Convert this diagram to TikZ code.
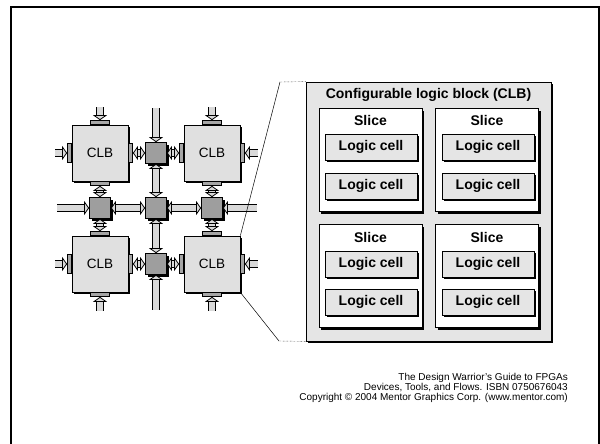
\documentclass[tikz,border=0pt]{standalone}
\usepackage{fontspec}
\setmainfont{Liberation Sans}
\usetikzlibrary{shadows,arrows.meta,positioning}

\tikzset{boxshadow/.style={drop shadow={shadow xshift=2pt,shadow yshift=-2pt,opacity=1,fill=black}}}
\tikzset{clb/.style={draw,fill=black!12,minimum size=56,line width=0.7pt,font=\fontsize{13.5}{14}\selectfont,boxshadow}}
\tikzset{switch/.style={draw,fill=black!38,minimum size=21,line width=0.7pt,boxshadow}}
\tikzset{pinh/.style={draw,fill=black!35,minimum width=19,minimum height=4,inner sep=0pt,line width=0.5pt}}
\tikzset{pinv/.style={pinh,minimum width=4,minimum height=19}}
\tikzset{plug/.tip={Triangle[length=5pt,width=14pt,fill=black!15,line width=0.8pt]}}
\tikzset{link/.style={draw,line width=0.8pt,double=black!15,double distance=6pt}}
\tikzset{bigbox/.style={draw,fill=black!10,line width=0.8pt,minimum width=245,minimum height=259,boxshadow}}
\tikzset{slice/.style={draw,fill=white,line width=0.8pt,minimum width=103,minimum height=103,boxshadow}}
\tikzset{cell/.style={draw,fill=black!10,line width=0.8pt,minimum width=92,minimum height=26,inner sep=0pt,font=\fontsize{14}{14}\selectfont\bfseries,boxshadow}}
\tikzset{heading/.style={font=\fontsize{14}{14}\selectfont\bfseries,inner sep=0pt}}

\begin{document}
\begin{tikzpicture}[x=1pt,y=-1pt]
\useasboundingbox (0,0) rectangle (600,444);
\draw[line width=2pt](11,446) -- (11,7) -- (599,7) -- (599,446);

% array of blocks and switches
\node[clb](a) at (100,153){CLB};
\node[clb](b) at (212,153){CLB};
\node[clb](c) at (100,264){CLB};
\node[clb](d) at (212,264){CLB};
\node[switch](s1) at (156,153){};
\node[switch](s2) at (100,208){};
\node[switch](s3) at (156,208){};
\node[switch](s4) at (212,208){};
\node[switch](s5) at (156,264){};
\foreach \n in {a,b,c,d}{
  \node[pinh,anchor=south](\n-n) at (\n.north){};
  \node[pinh,anchor=north](\n-s) at (\n.south){};
  \node[pinv,anchor=east](\n-w) at (\n.west){};
  \node[pinv,anchor=west](\n-e) at (\n.east){};
}
\coordinate[above=13pt of a-n](a-top);
\coordinate[above=13pt of b-n](b-top);
\coordinate[left=12pt of a-w](a-left);
\coordinate[left=12pt of c-w](c-left);
\coordinate[right=13pt of b-e](b-right);
\coordinate[right=13pt of d-e](d-right);
\coordinate[below=14pt of c-s](c-bot);
\coordinate[below=14pt of d-s](d-bot);
\coordinate[above=34pt of s1](v-top);
\coordinate[below=35pt of s5](v-bot);
\coordinate[left=32pt of s2](h-left);
\coordinate[right=34pt of s4](h-right);

\draw[link,-plug](a-top) -- (a-n);
\draw[link,-plug](b-top) -- (b-n);
\draw[link,-plug](a-left) -- (a-w);
\draw[link,-plug](c-left) -- (c-w);
\draw[link,-plug](b-right) -- (b-e);
\draw[link,-plug](d-right) -- (d-e);
\draw[link,-plug](c-bot) -- (c-s);
\draw[link,-plug](d-bot) -- (d-s);
\draw[link,plug-plug](a-e) -- (s1);
\draw[link,plug-plug](b-w) -- (s1);
\draw[link,plug-plug](c-e) -- (s5);
\draw[link,plug-plug](d-w) -- (s5);
\draw[link,plug-plug](a-s) -- (s2);
\draw[link,plug-plug](c-n) -- (s2);
\draw[link,plug-plug](b-s) -- (s4);
\draw[link,plug-plug](d-n) -- (s4);
\draw[link,-plug](v-top) -- (s1);
\draw[link,plug-plug](s1) -- (s3);
\draw[link,plug-plug](s3) -- (s5);
\draw[link,-plug](v-bot) -- (s5);
\draw[link,-plug](h-left) -- (s2);
\draw[link,plug-plug](s2) -- (s3);
\draw[link,plug-plug](s3) -- (s4);
\draw[link,-plug](h-right) -- (s4);

% enlarged block
\node[bigbox](clbbox) at (428.75,211.5){};
\node[heading](title) at (428.5,95){Configurable logic block (CLB)};
\node[slice](sl1) at (370.5,160){};
\node[slice](sl2) at (487,160){};
\node[slice](sl3) at (370.5,276){};
\node[slice](sl4) at (487,276){};
\node[heading] at (370.5,120){Slice};
\node[heading] at (487,120){Slice};
\node[heading] at (370.5,237){Slice};
\node[heading] at (487,237){Slice};
\node[cell](lc1) at (371,147){Logic cell};
\node[cell](lc2) at (371,186){Logic cell};
\node[cell](lc3) at (488,147){Logic cell};
\node[cell](lc4) at (488,186){Logic cell};
\node[cell](lc5) at (371,264){Logic cell};
\node[cell](lc6) at (371,302){Logic cell};
\node[cell](lc7) at (488,264){Logic cell};
\node[cell](lc8) at (488,302){Logic cell};

\coordinate (zt) at (280,82);
\coordinate (zb) at (279,341);
\draw[line width=0.5pt](d.north east) -- (zt);
\draw[densely dotted](zt) -- (clbbox.north west);
\draw[line width=0.5pt](d.south east) -- (zb);
\draw[densely dotted](zb) -- (clbbox.south west);

\node[align=right,anchor=north east,inner sep=0pt,font=\fontsize{10}{8.5}\selectfont](credit) at (568,373)
  {The Design Warrior's Guide to FPGAs\\Devices, Tools, and Flows. ISBN 0750676043\\Copyright © 2004 Mentor Graphics Corp. (www.mentor.com)};
\end{tikzpicture}
\end{document}
